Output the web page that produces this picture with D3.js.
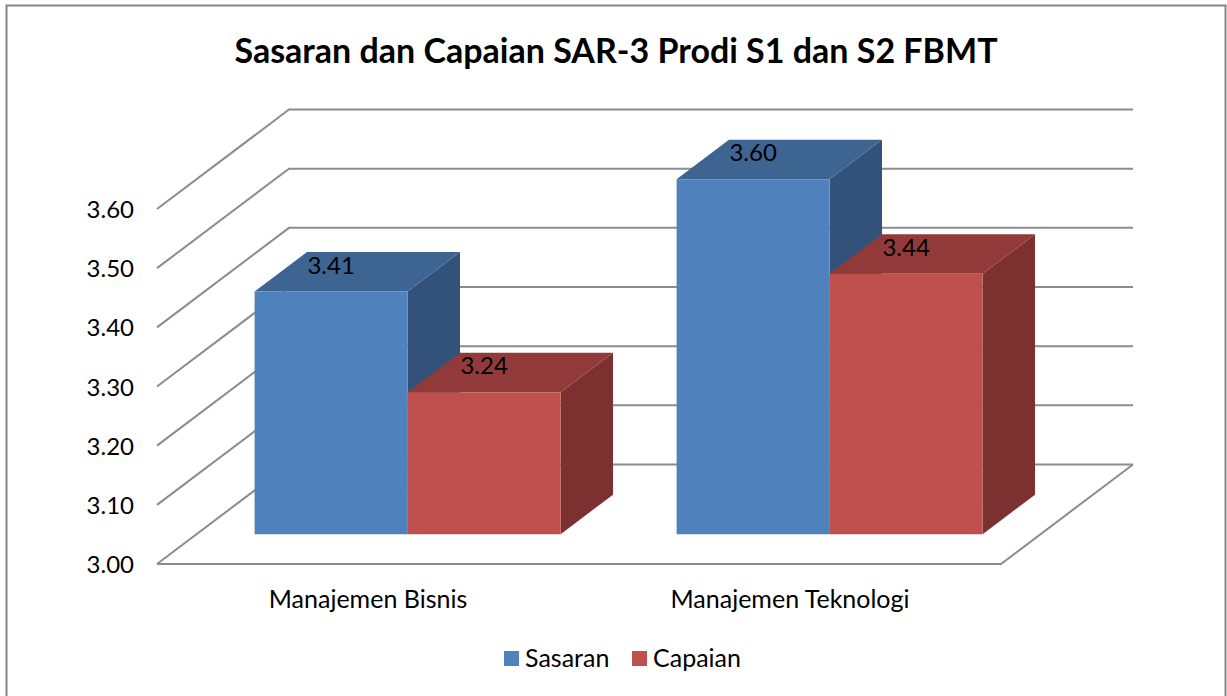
<!DOCTYPE html>
<html>
<head>
<meta charset="utf-8">
<script src="https://cdn.jsdelivr.net/npm/d3@7"></script>
<style>
  html, body { margin: 0; padding: 0; background: #fff; overflow: hidden; }
  text { font-family: Lato, "Open Sans", sans-serif; fill: #000; }
</style>
</head>
<body>
<div id="chart-area"></div>
<script>
// Data
var title = "Sasaran dan Capaian SAR-3 Prodi S1 dan S2 FBMT";
var categories = ["Manajemen Bisnis", "Manajemen Teknologi"];
var seriesNames = ["Sasaran", "Capaian"];
var sasaran = [3.41, 3.60];
var capaian = [3.24, 3.44];
var yTicks = [3.00, 3.10, 3.20, 3.30, 3.40, 3.50, 3.60];

// Colours: front, top, side of the 3D bars
var colors = {
    Sasaran: { front: "#4f81bd", top: "#3e6492", side: "#325279" },
    Capaian: { front: "#c0504d", top: "#923a39", side: "#7c3130" }
};

var width = 1227, height = 696;

var svg = d3.select("#chart-area")
    .append("svg")
        .attr("width", width)
        .attr("height", height);

// Outer frame, its bottom edge is cut off by the picture
svg.append("rect")
    .attr("x", 6.5)
    .attr("y", 5.5)
    .attr("width", 1219)
    .attr("height", 720)
    .attr("fill", "#fff")
    .attr("stroke", "#868686")
    .attr("stroke-width", 2);

// Title
svg.append("text")
    .attr("x", 616)
    .attr("y", 63)
    .attr("text-anchor", "middle")
    .attr("font-size", "34px")
    .attr("font-weight", "bold")
    .text(title);

// Scales, all on the front plane of the box
var x = d3.scaleBand()
    .domain(categories)
    .range([157, 1001]);

var y = d3.scaleLinear()
    .domain([3.0, 3.6])
    .range([564, 209]);

var xSeries = d3.scaleBand()
    .domain(seriesNames)
    .range([0, x.bandwidth()])
    .paddingOuter(0.379);

// Depth of the box, 0 is the front plane and 1 the back wall
var depthX = d3.scaleLinear().domain([0, 1]).range([0, 132]);
var depthY = d3.scaleLinear().domain([0, 1]).range([0, -99.5]);
var barFront = 0.3, barBack = 0.697;

function project(px, py, depth) {
    return [px + depthX(depth), py + depthY(depth)];
}

var line = d3.line();

// Side wall, back wall gridlines
var grid = svg.append("g").attr("fill", "none").attr("stroke", "#8c8c8c").attr("stroke-width", 2);

yTicks.forEach(function(t){
    grid.append("path").attr("d", line([
        project(x.range()[0], y(t), 0),
        project(x.range()[0], y(t), 1),
        project(x.range()[1], y(t), 1)
    ]));
});

// Floor front and right edges
grid.append("path").attr("d", line([
    project(x.range()[0], y(3), 0),
    project(x.range()[1], y(3), 0),
    project(x.range()[1], y(3), 1)
]));

// Bars
var rows = [];
categories.forEach(function(c, i){
    rows.push({ category: c, series: "Sasaran", value: sasaran[i] });
    rows.push({ category: c, series: "Capaian", value: capaian[i] });
});

var bars = svg.selectAll("g.bar").data(rows).enter()
    .append("g")
    .attr("class", "bar");

function face(d, corners) {
    var left = x(d.category) + xSeries(d.series);
    var right = left + xSeries.bandwidth();
    return line(corners.map(function(c){
        return project(c[0] ? right : left, y(c[1] ? d.value : 3), c[2] ? barBack : barFront);
    }));
}

// Corners are [right?, top?, back?]
bars.append("path")
    .attr("fill", function(d){ return colors[d.series].side; })
    .attr("d", function(d){ return face(d, [[1,0,0],[1,0,1],[1,1,1],[1,1,0]]) + "Z"; });

bars.append("path")
    .attr("fill", function(d){ return colors[d.series].top; })
    .attr("d", function(d){ return face(d, [[0,1,0],[0,1,1],[1,1,1],[1,1,0]]) + "Z"; });

bars.append("path")
    .attr("fill", function(d){ return colors[d.series].front; })
    .attr("d", function(d){ return face(d, [[0,0,0],[0,1,0],[1,1,0],[1,0,0]]) + "Z"; });

// Value labels sit on the top face
bars.append("text")
    .attr("x", function(d){ return x(d.category) + xSeries(d.series) + xSeries.bandwidth() / 2 + depthX(barFront); })
    .attr("y", function(d){ return y(d.value) + depthY(barFront) - 18; })
    .attr("text-anchor", "middle")
    .attr("font-size", "24px")
    .text(function(d){ return d3.format(".2f")(d.value); });

// Y Axis
var yAxisCall = d3.axisLeft(y)
    .tickValues(yTicks)
    .tickSize(0)
    .tickPadding(23)
    .tickFormat(d3.format(".2f"));
var yAxis = svg.append("g")
    .attr("transform", "translate(157,0)")
    .call(yAxisCall);
yAxis.select(".domain").remove();
yAxis.attr("font-family", null).attr("font-size", "24px");
yAxis.selectAll("text").attr("fill", "#000").attr("dy", "0.36em");

// X Axis
var xAxisCall = d3.axisBottom(x)
    .tickSize(0)
    .tickPadding(26);
var xAxis = svg.append("g")
    .attr("transform", "translate(0,564)")
    .call(xAxisCall);
xAxis.select(".domain").remove();
xAxis.attr("font-family", null).attr("font-size", "25px");
xAxis.selectAll("text").attr("fill", "#000");

// Legend
var legendX = [504, 632];
var legend = svg.selectAll("g.legend").data(seriesNames).enter()
    .append("g")
    .attr("class", "legend")
    .attr("transform", function(d, i){ return "translate(" + legendX[i] + ",651)"; });

legend.append("rect")
    .attr("width", 15)
    .attr("height", 15)
    .attr("fill", function(d){ return colors[d].front; });

legend.append("text")
    .attr("x", 21)
    .attr("y", 16)
    .attr("font-size", "25px")
    .text(function(d){ return d; });
</script>
</body>
</html>
